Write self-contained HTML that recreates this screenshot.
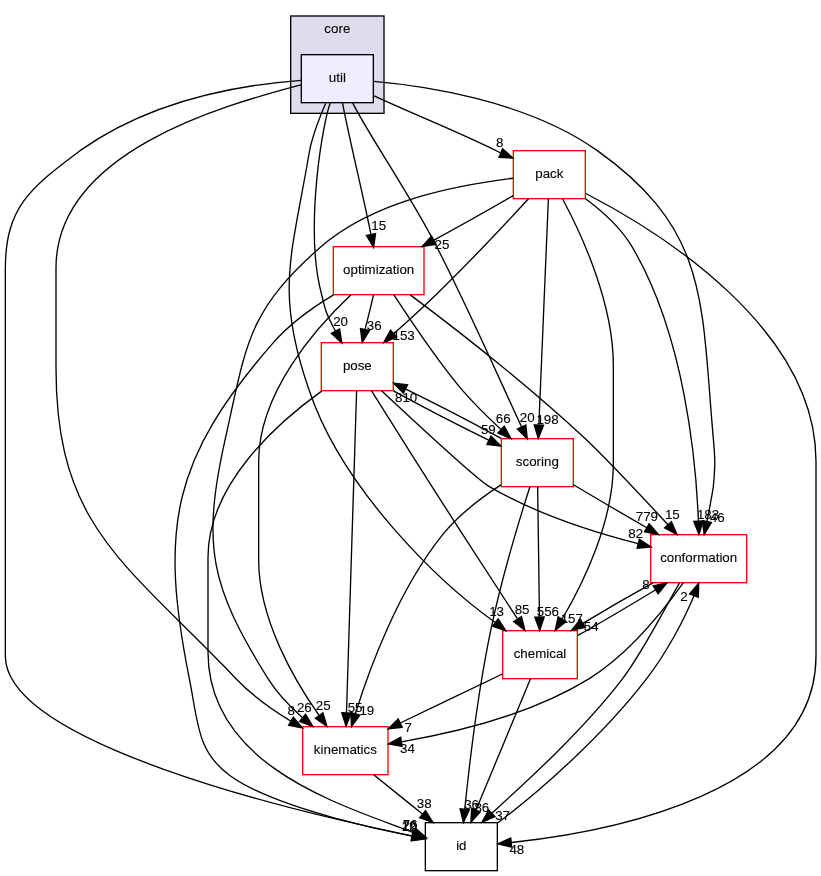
<!DOCTYPE html>
<html><head><meta charset="utf-8"><title>core/util</title>
<style>
html,body{margin:0;padding:0;background:#fff;overflow:hidden;}
svg{display:block;will-change:transform;}
text{font-family:"Liberation Sans",sans-serif;font-size:10px;text-anchor:middle;fill:#000;stroke:#000;stroke-width:0.08px;}
path{fill:none;stroke:#000;stroke-width:1;}
polygon.a{fill:#000;stroke:#000;stroke-width:1;}
rect{stroke-width:1;}
</style></head>
<body>
<svg width="821" height="876" viewBox="0 0 615.75 657">
<rect x="0" y="0" width="615.75" height="657" fill="#fff" stroke="none"/>
<g transform="translate(4 651)">
<rect x="214" y="-639" width="70" height="73" fill="#ddddee" stroke="#000"/>
<text class="n" x="249" y="-626.25">core</text>
<rect x="222" y="-610" width="54" height="36" fill="#eeeeff" stroke="black"/>
<text class="n" x="249" y="-589.5">util</text>
<rect x="484" y="-250" width="72" height="36" fill="white" stroke="red"/>
<text class="n" x="520" y="-229.5">conformation</text>
<rect x="223" y="-106" width="64" height="36" fill="white" stroke="red"/>
<text class="n" x="255" y="-85.5">kinematics</text>
<rect x="373" y="-178" width="56" height="36" fill="white" stroke="red"/>
<text class="n" x="401" y="-157.5">chemical</text>
<rect x="237" y="-394" width="54" height="36" fill="white" stroke="red"/>
<text class="n" x="264" y="-373.5">pose</text>
<rect x="246" y="-466" width="68" height="36" fill="white" stroke="red"/>
<text class="n" x="280" y="-445.5">optimization</text>
<rect x="372" y="-322" width="54" height="36" fill="white" stroke="red"/>
<text class="n" x="399" y="-301.5">scoring</text>
<rect x="315" y="-34" width="54" height="36" fill="white" stroke="black"/>
<text class="n" x="342" y="-13.5">id</text>
<rect x="381" y="-538" width="54" height="36" fill="white" stroke="red"/>
<text class="n" x="408" y="-517.5">pack</text>
<path d="M276.2,-589.94C309.75,-587.09 389.86,-576.57 444,-538 528.29,-477.94 521.77,-425.08 531,-322 532.43,-306.06 532.49,-301.93 531,-286 529.75,-277.48 527.8,-268.28 526.2,-259.99"/>
<polygon class="a" points="529.6,-259.16 524.16,-250.07 522.74,-260.57"/>
<text x="534.01" y="-259.61">46</text>
<path d="M221.62,-587.27C163.09,-571.76 37.15,-537.07 38,-449 38,-449 38,-449 38,-375 38,-255.32 90.46,-228.66 173,-142 184.81,-129.6 200.07,-118.73 214.22,-110.12"/>
<polygon class="a" points="215.99,-113.14 222.84,-105.05 212.45,-107.1"/>
<text x="214.33" y="-114.9">8</text>
<path d="M240.27,-573.63C236.27,-564.29 229.98,-548.64 227.94,-536.63 214.67,-458.54 202.03,-432.18 227.93,-358.07 253.02,-283.56 325.67,-213.96 367.37,-184.18"/>
<polygon class="a" points="369.59,-186.89 375.37,-178.01 365.31,-181.34"/>
<text x="368.47" y="-188.83">13</text>
<path d="M243.95,-574.27C238.67,-562.34 223.9,-480 237.12,-430.5 239.53,-421.46 238.97,-418.41 247.62,-402.6"/>
<polygon class="a" points="244.55,-400.92 252.42,-393.83 250.69,-404.28"/>
<text x="251.45" y="-406.3">20</text>
<path d="M252.8,-574.27C257.41,-549.29 267.75,-507.42 274.23,-475.1"/>
<polygon class="a" points="270.8,-474.41 276.2,-465.3 277.66,-475.79"/>
<text x="280.04" y="-478.88">15</text>
<path d="M260.3,-574.2C272.36,-549.77 302.56,-506.77 323.42,-466.17 347.48,-419.37 371.49,-364.31 387.23,-330.77"/>
<polygon class="a" points="384.06,-329.28 391.48,-321.72 390.4,-332.26"/>
<text x="391.44" y="-334.22">20</text>
<path d="M221.84,-590.77C171.71,-586.97 108.12,-574.84 56,-538 18.63,-509.94 0,-495.73 0,-449 0,-449 0,-449 0,-159 0,-93.53 216.5,-42.35 304.99,-24.16"/>
<polygon class="a" points="305.77,-27.58 314.88,-22.16 304.38,-20.72"/>
<text x="303.7" y="-29.25">76</text>
<path d="M276.2,-579.23C302.12,-567.01 341.16,-551.63 371.19,-536.43"/>
<polygon class="a" points="372.94,-539.49 380.81,-532.4 370.23,-533.04"/>
<text x="370.72" y="-541">8</text>
<path d="M508.55,-213.98C494.16,-193.88 468.1,-160.81 438,-142 394.15,-115.05 336,-101.28 297.13,-94.63"/>
<polygon class="a" points="297.63,-91.16 287.2,-93.01 296.51,-98.07"/>
<text x="301.64" y="-86.44">34</text>
<path d="M485.75,-213.88C469.1,-204.72 449.44,-193.34 433.19,-183.48"/>
<polygon class="a" points="434.92,-180.44 424.56,-178.19 431.26,-186.4"/>
<text x="439.47" y="-177.4">54</text>
<path d="M505.55,-213.67C494.56,-195.03 480,-164.96 463,-142 433.13,-103.04 391.09,-64.92 365.05,-41.22"/>
<polygon class="a" points="367.26,-38.5 357.52,-34.34 362.55,-43.67"/>
<text x="372.93" y="-36.33">37</text>
<path d="M276.51,-69.7C287.46,-60.88 300.95,-50.03 312.82,-40.47"/>
<polygon class="a" points="315.14,-43.1 320.74,-34.1 310.76,-37.65"/>
<text x="314.12" y="-45.07">38</text>
<path d="M429.08,-174.22C446.35,-183.87 468.85,-197.19 487.49,-208.51"/>
<polygon class="a" points="485.89,-211.63 496.24,-213.88 489.55,-205.66"/>
<text x="480.44" y="-209.17">8</text>
<path d="M372.85,-145.5C351.1,-135.08 320.68,-120.49 296.19,-108.75"/>
<polygon class="a" points="297.66,-105.57 287.13,-104.41 294.63,-111.88"/>
<text x="302.13" y="-102.07">7</text>
<path d="M393.88,-141.87C383.74,-117.46 365.03,-72.43 353.07,-43.64"/>
<polygon class="a" points="356.21,-42.08 349.14,-34.19 349.75,-44.77"/>
<text x="357.41" y="-41.81">86</text>
<path d="M282.19,-357.92C308.22,-333.58 353.97,-291.27 363,-286 397.99,-265.59 441.97,-251.65 474.64,-243.21"/>
<polygon class="a" points="475.54,-246.59 484.39,-240.77 473.84,-239.8"/>
<text x="472.75" y="-247.72">82</text>
<path d="M263.46,-357.97C261.96,-310.29 257.71,-175.18 255.87,-116.63"/>
<polygon class="a" points="259.36,-116.19 255.54,-106.31 252.36,-116.41"/>
<text x="262.31" y="-117.19">55</text>
<path d="M274.67,-357.9C285.89,-339.94 304.08,-310.93 320,-286 341.94,-251.64 367.57,-212.2 384.03,-186.96"/>
<polygon class="a" points="387.12,-188.63 389.66,-178.34 381.26,-184.81"/>
<text x="387.54" y="-190.69">85</text>
<path d="M291.13,-357.88C311.67,-346.61 339.94,-331.98 362.46,-320.96"/>
<polygon class="a" points="364.24,-323.98 371.71,-316.48 361.19,-317.68"/>
<text x="362.24" y="-325.61">59</text>
<path d="M237.46,-357.85C204.34,-334.13 152,-287.95 152,-233 152,-233 152,-233 152,-161.96 152,-73.83 258.53,-45.49 306.59,-26.35"/>
<polygon class="a" points="305.3,-23.1 315.88,-22.65 307.88,-29.6"/>
<text x="303.2" y="-28.2">20</text>
<path d="M303.72,-429.86C334.87,-406.55 390.73,-363.03 435,-322 456.79,-301.23 480.05,-275.78 496.98,-257.42"/>
<polygon class="a" points="499.58,-259.76 503.75,-250.03 494.42,-255.03"/>
<text x="500.24" y="-261.83">15</text>
<path d="M259.25,-429.91C233.03,-405.21 190,-356.79 190,-305 190,-305 190,-305 190,-231 190,-186.96 216.17,-141.64 235.29,-114.4"/>
<polygon class="a" points="238.19,-116.36 241.22,-106.21 232.52,-112.26"/>
<text x="238.38" y="-118.44">25</text>
<path d="M276.04,-429.7C274.39,-421.98 272.02,-412.71 269.81,-404.11"/>
<polygon class="a" points="273.18,-403.15 267.67,-394.1 266.34,-404.62"/>
<text x="276.71" y="-403.57">36</text>
<path d="M291.4,-429.88C303.47,-411.42 323.21,-381.5 343,-358 351.74,-348 362.12,-337.79 371.55,-329.03"/>
<polygon class="a" points="374.17,-331.38 379.19,-322.06 369.45,-326.21"/>
<text x="373.42" y="-333.4">66</text>
<path d="M246.14,-429.84C230.99,-420.73 213.61,-408.42 201,-394 125.01,-307.1 115.36,-255.21 138,-142 144.8,-108.01 143.68,-87 168.86,-69.05 206.18,-42.43 303.05,-24.32 305.29,-23.86"/>
<polygon class="a" points="304.59,-20.43 315.09,-21.85 305.99,-27.29"/>
<text x="302.6" y="-27.8">12</text>
<path d="M426.08,-287.46C442.01,-277.98 462.81,-265.7 481.11,-255.2"/>
<polygon class="a" points="482.87,-258.22 489.8,-250.21 479.39,-252.15"/>
<text x="481.17" y="-259.97">779</text>
<path d="M371.72,-287.34C357.26,-277.97 340.05,-264.98 328,-250 294.69,-208.61 273.05,-149.59 262.53,-115.7"/>
<polygon class="a" points="265.86,-114.6 259.62,-106.04 259.15,-116.62"/>
<text x="271.11" y="-114.72">19</text>
<path d="M399.24,-285.87C399.58,-261.67 400.21,-217.21 400.61,-188.39"/>
<polygon class="a" points="404.12,-188.24 400.76,-178.19 397.12,-188.14"/>
<text x="406.91" y="-189.37">556</text>
<path d="M371.81,-322.16C351.22,-333.44 322.9,-348.1 300.39,-359.12"/>
<polygon class="a" points="298.61,-356.09 291.13,-363.6 301.66,-362.39"/>
<text x="300.61" y="-349.47">810</text>
<path d="M393.37,-285.79C385.73,-261.86 372.1,-217.06 364,-178 354.33,-131.34 347.84,-76.17 344.55,-44.02"/>
<polygon class="a" points="348.03,-43.65 343.55,-34.05 341.06,-44.35"/>
<text x="349.71" y="-44.45">36</text>
<path d="M369.18,-33.76C399.43,-56.31 447.76,-98.64 481,-142 495.85,-161.37 508.96,-185.8 516.46,-204.17"/>
<polygon class="a" points="513.23,-205.54 520.02,-213.67 519.79,-203.08"/>
<text x="509.01" y="-199.96">2</text>
<path d="M435.14,-501.9C447.57,-492.72 461.42,-480.34 470,-466 509.43,-399.56 517.96,-305.85 519.85,-260.17"/>
<polygon class="a" points="523.35,-260.26 520.19,-250.15 516.35,-260.03"/>
<text x="527.07" y="-261.45">183</text>
<path d="M380.81,-517.3C344.18,-512.73 277.36,-502.01 235.21,-464.65 181.26,-416.82 180.86,-392.91 165,-322 146.89,-241.03 154.04,-210.97 197,-142 203.76,-131.15 213.35,-121.13 222.79,-112.8"/>
<polygon class="a" points="225.21,-115.33 230.61,-106.22 220.71,-109.98"/>
<text x="224.29" y="-117.32">26</text>
<path d="M417.95,-501.71C432.01,-475.58 456,-424.1 456,-377 456,-377 456,-377 456,-303 456,-260.01 433.81,-214.34 417.62,-186.74"/>
<polygon class="a" points="420.56,-184.85 412.4,-178.1 414.57,-188.47"/>
<text x="424.85" y="-183.96">157</text>
<path d="M392.39,-501.9C375.62,-483.7 348,-454.25 323,-430 312.94,-420.24 301.55,-409.86 291.48,-400.9"/>
<polygon class="a" points="293.55,-398.06 283.74,-394.06 288.91,-403.3"/>
<text x="298.72" y="-395.81">153</text>
<path d="M380.96,-504.33C364.15,-494.66 341.5,-481.83 321.47,-470.96"/>
<polygon class="a" points="323.01,-467.82 312.55,-466.12 319.67,-473.97"/>
<text x="327.53" y="-464.53">25</text>
<path d="M407.28,-501.85C405.72,-464.83 402.04,-377.18 400.15,-332.39"/>
<polygon class="a" points="403.64,-332.08 399.72,-322.23 396.65,-332.37"/>
<text x="406.63" y="-333.05">198</text>
<path d="M435.39,-505.89C490.16,-477.53 608,-404.92 608,-305 608,-305 608,-305 608,-159 608,-56.32 453.04,-27.05 379.67,-19.11"/>
<polygon class="a" points="379.76,-15.6 369.46,-18.08 379.06,-22.57"/>
<text x="383.63" y="-10.64">48</text>
</g>
</svg>
</body></html>
